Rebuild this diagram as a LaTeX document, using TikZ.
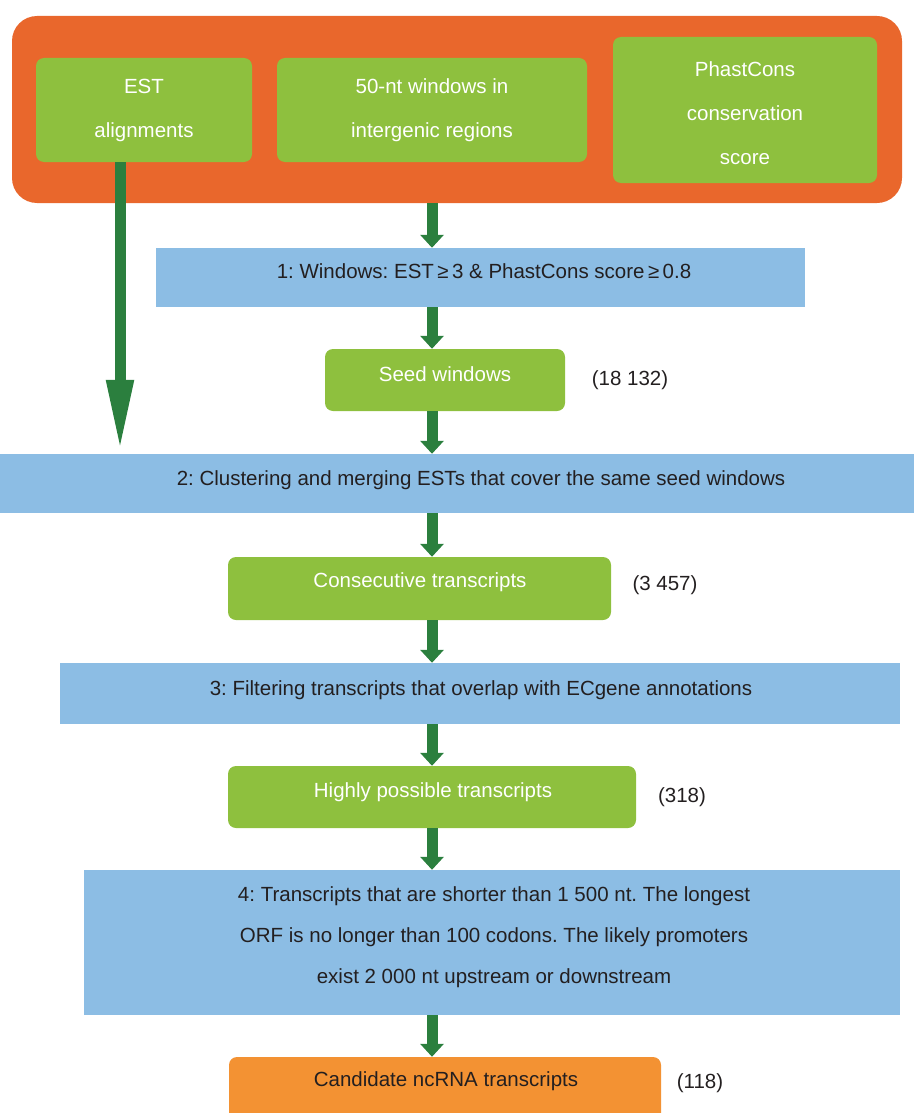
\documentclass[tikz,border=0pt]{standalone}
\usepackage{fontspec}
\setmainfont{Liberation Sans}
\usetikzlibrary{arrows.meta}

\definecolor{topbg}{RGB}{233,103,44}
\definecolor{boxgreen}{RGB}{142,192,62}
\definecolor{stepblue}{RGB}{140,189,228}
\definecolor{flowgreen}{RGB}{43,127,62}
\definecolor{resorange}{RGB}{243,146,51}
\definecolor{inktext}{RGB}{35,31,32}

\tikzset{
  greenbox/.style={fill=boxgreen, rounded corners=8pt, inner sep=0pt},
  bluebox/.style={fill=stepblue, inner sep=0pt},
  txt/.style={font=\fontsize{20.5}{44}\selectfont\frenchspacing, align=center, inner sep=0pt, text=inktext},
  wtxt/.style={txt, text=white},
  flow/.style={flowgreen, line width=11pt, -{Triangle[width=23pt,length=13pt]}},
}

\begin{document}
\begin{tikzpicture}[x=1pt, y=-1pt]
    \clip (0,0) rectangle (914,1113);
    % Lanes for the arrows
    \coordinate (spine) at (432,0);
    \coordinate (lane) at (120,0);

    % Input data
    \node[fill=topbg, rounded corners=25pt, minimum width=890pt, minimum height=187pt] (top) at (457,109.5) {};
    \node[greenbox, minimum width=216pt, minimum height=104pt] (est) at (144,110) {};
    \node[greenbox, minimum width=310pt, minimum height=104pt] (win) at (432,110) {};
    \node[greenbox, minimum width=264pt, minimum height=146pt] (phast) at (745,110) {};
    \node[wtxt] (test) at (144,110) {EST\\alignments};
    \node[wtxt] (twin) at (432,110) {50-nt windows in\\intergenic regions};
    \node[wtxt] (tphast) at (745,113) {PhastCons\\conservation\\score};

    % Steps and results
    \node[bluebox, minimum width=649pt, minimum height=59pt] (b1) at (480.5,277.5) {};
    \node[txt] (t1) at (484,271) {1: Windows: EST\,≥\,3 \& PhastCons score\,≥\,0.8};
    \node[greenbox, minimum width=240pt, minimum height=62pt] (seed) at (445,380) {};
    \node[wtxt] (tseed) at (445,374) {Seed windows};
    \node[txt] (n1) at (630,380) {(18 132)};

    \node[bluebox, minimum width=914pt, minimum height=59pt] (b2) at (457,483.5) {};
    \node[txt] (t2) at (481,480) {2: Clustering and merging ESTs that cover the same seed windows};
    \node[greenbox, minimum width=383pt, minimum height=63pt] (cons) at (419.5,588.5) {};
    \node[wtxt] (tcons) at (420,582) {Consecutive transcripts};
    \node[txt] (n2) at (665,585) {(3 457)};

    \node[bluebox, minimum width=840pt, minimum height=61pt] (b3) at (480,693.5) {};
    \node[txt] (t3) at (481,690) {3: Filtering transcripts that overlap with ECgene annotations};
    \node[greenbox, minimum width=408pt, minimum height=62pt] (high) at (432,797) {};
    \node[wtxt] (thigh) at (433,792) {Highly possible transcripts};
    \node[txt] (n3) at (682,797) {(318)};

    \node[bluebox, minimum width=816pt, minimum height=145pt] (b4) at (492,942.5) {};
    \node[txt, font=\fontsize{20.5}{41}\selectfont\frenchspacing] (t4) at (494,937) {4: Transcripts that are shorter than 1 500 nt. The longest\\ORF is no longer than 100 codons. The likely promoters\\exist 2 000 nt upstream or downstream};
    \node[fill=resorange, rounded corners=8pt, minimum width=432pt, minimum height=83pt] (cand) at (445,1098.5) {};
    \node[txt] (tcand) at (446,1081) {Candidate ncRNA transcripts};
    \node[txt] (n4) at (700,1083) {(118)};

    % Arrows
    \draw[flow] (top.south -| spine) -- (b1.north -| spine);
    \draw[flow] (b1.south -| spine) -- (seed.north -| spine);
    \draw[flow] (seed.south -| spine) -- (b2.north -| spine);
    \draw[flow] (b2.south -| spine) -- (cons.north -| spine);
    \draw[flow] (cons.south -| spine) -- (b3.north -| spine);
    \draw[flow] (b3.south -| spine) -- (high.north -| spine);
    \draw[flow] (high.south -| spine) -- (b4.north -| spine);
    \draw[flow] (b4.south -| spine) -- (cand.north -| spine);
    \draw[flow, -{Triangle[width=25pt,length=72pt]}] (est.south -| lane) -- ([yshift=2pt]b2.north -| lane);
\end{tikzpicture}
\end{document}
